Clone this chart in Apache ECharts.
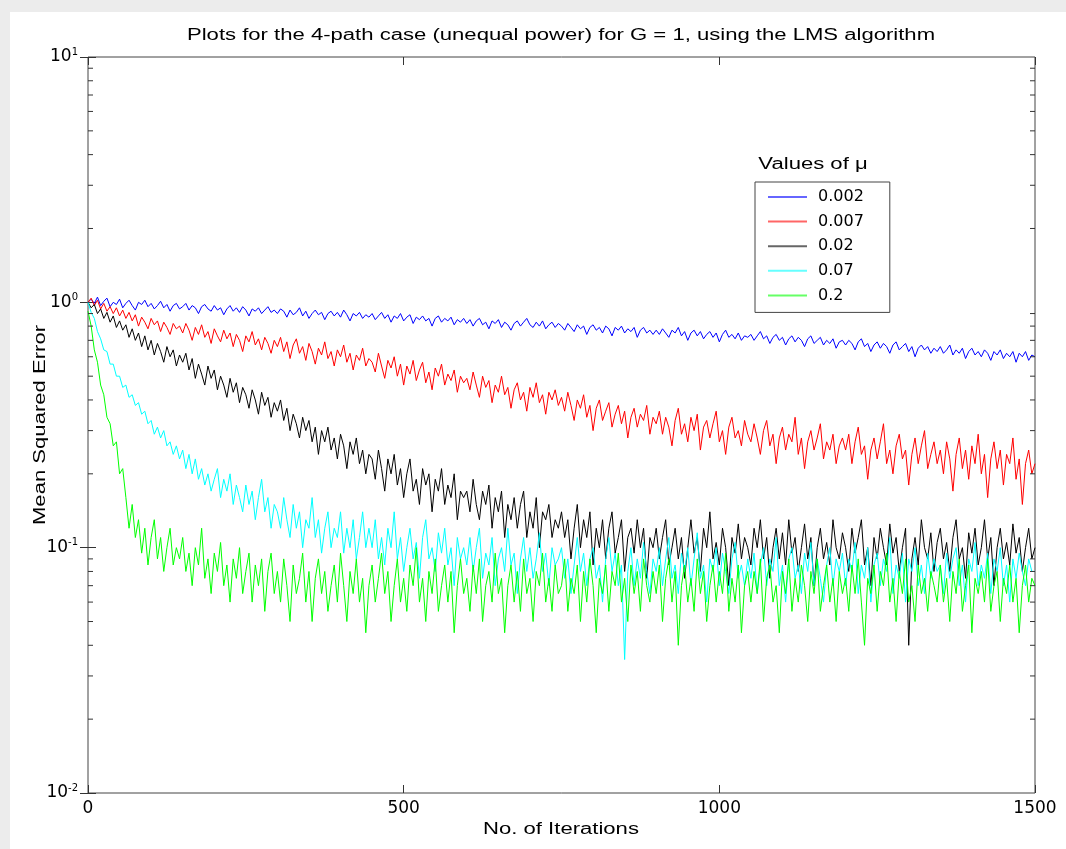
<!DOCTYPE html>
<html>
<head>
<meta charset="utf-8">
<title>LMS 4-path</title>
<script src="https://cdn.jsdelivr.net/npm/echarts/dist/echarts.min.js"></script>
<style>
  html, body { margin: 0; padding: 0; background: #ececec; }
  #paper { position: absolute; left: 10px; top: 12px; right: 0; bottom: 0; background: #fff; }
  #chart1 { position: absolute; left: 0; top: 0; width: 1066px; height: 849px; }
</style>
</head>
<body>
<div id="paper"></div>
<div id="chart1"></div>
<script type="text/javascript">
// MSE every 5 iterations, one array per step size mu
var iterStep = 5;
var muNames = ['0.002', '0.007', '0.02', '0.07', '0.2'];
var muColors = ['#0000ff', '#ff0000', '#000000', '#00ffff', '#00ff00'];

var mse002 = [
  1.00, 1.03, 0.99, 1.05, 0.97, 1.01, 1.04, 0.96, 1.00, 0.98,
  1.03, 0.95, 0.99, 1.02, 0.97, 0.93, 1.00, 0.98, 1.02, 0.96,
  0.99, 0.94, 0.97, 1.01, 0.95, 0.98, 0.92, 0.97, 0.99, 0.94,
  0.96, 0.99, 0.93, 0.97, 0.95, 0.90, 0.96, 0.98, 0.94, 0.92,
  0.97, 0.93, 0.95, 0.89, 0.94, 0.97, 0.92, 0.95, 0.91, 0.96,
  0.93, 0.88, 0.94, 0.92, 0.95, 0.90, 0.93, 0.96, 0.91, 0.93,
  0.90, 0.94, 0.92, 0.87, 0.93, 0.89, 0.91, 0.95, 0.88, 0.92,
  0.86, 0.90, 0.93, 0.89, 0.91, 0.85, 0.90, 0.92, 0.88, 0.91,
  0.87, 0.93, 0.89, 0.84, 0.90, 0.88, 0.91, 0.86, 0.89, 0.87,
  0.90, 0.85, 0.88, 0.91, 0.86, 0.89, 0.83, 0.88, 0.86, 0.90,
  0.84, 0.87, 0.89, 0.82, 0.87, 0.85, 0.88, 0.84, 0.86, 0.80,
  0.86, 0.88, 0.83, 0.86, 0.84, 0.87, 0.81, 0.85, 0.83, 0.86,
  0.82, 0.85, 0.80, 0.84, 0.86, 0.81, 0.83, 0.78, 0.84, 0.82,
  0.85, 0.79, 0.83, 0.81, 0.77, 0.82, 0.84, 0.80, 0.83, 0.86,
  0.81, 0.79, 0.83, 0.80, 0.84, 0.78, 0.81, 0.83, 0.79, 0.82,
  0.80, 0.77, 0.82, 0.79, 0.76, 0.81, 0.78, 0.80, 0.74, 0.79,
  0.81, 0.77, 0.79, 0.75, 0.80, 0.78, 0.73, 0.79, 0.77, 0.80,
  0.75, 0.78, 0.76, 0.79, 0.72, 0.77, 0.79, 0.75, 0.77, 0.74,
  0.77, 0.74, 0.78, 0.75, 0.72, 0.77, 0.75, 0.79, 0.73, 0.76,
  0.70, 0.75, 0.77, 0.73, 0.76, 0.71, 0.74, 0.76, 0.72, 0.75,
  0.69, 0.74, 0.77, 0.72, 0.74, 0.71, 0.75, 0.70, 0.73, 0.72,
  0.74, 0.70, 0.73, 0.76, 0.71, 0.73, 0.68, 0.72, 0.74, 0.70,
  0.72, 0.67, 0.71, 0.73, 0.69, 0.72, 0.70, 0.66, 0.71, 0.73,
  0.68, 0.70, 0.72, 0.67, 0.70, 0.68, 0.71, 0.65, 0.69, 0.70,
  0.67, 0.70, 0.68, 0.64, 0.69, 0.71, 0.66, 0.68, 0.63, 0.67,
  0.69, 0.65, 0.68, 0.66, 0.62, 0.67, 0.69, 0.64, 0.66, 0.68,
  0.63, 0.66, 0.60, 0.65, 0.67, 0.64, 0.66, 0.62, 0.65, 0.63,
  0.66, 0.62, 0.64, 0.67, 0.61, 0.64, 0.62, 0.65, 0.59, 0.63,
  0.65, 0.61, 0.63, 0.60, 0.64, 0.62, 0.58, 0.63, 0.61, 0.64,
  0.59, 0.62, 0.60, 0.63, 0.57, 0.62, 0.60, 0.63, 0.58, 0.61,
  0.60
];
var mse007 = [
  1.00, 1.04, 0.97, 1.02, 0.94, 0.99, 0.92, 0.96, 0.90, 0.95,
  0.88, 0.93, 0.86, 0.91, 0.84, 0.89, 0.80, 0.87, 0.83, 0.78,
  0.86, 0.81, 0.84, 0.76, 0.83, 0.79, 0.74, 0.82, 0.78, 0.80,
  0.75, 0.82, 0.77, 0.70, 0.79, 0.74, 0.81, 0.72, 0.76, 0.68,
  0.78, 0.73, 0.69, 0.77, 0.71, 0.75, 0.66, 0.74, 0.70, 0.63,
  0.73, 0.69, 0.76, 0.67, 0.71, 0.64, 0.72, 0.68, 0.62, 0.70,
  0.66, 0.72, 0.63, 0.69, 0.59, 0.67, 0.71, 0.62, 0.66, 0.58,
  0.68, 0.63, 0.56, 0.65, 0.61, 0.69, 0.59, 0.63, 0.55, 0.64,
  0.60, 0.67, 0.57, 0.62, 0.53, 0.61, 0.58, 0.65, 0.55, 0.59,
  0.57, 0.52, 0.62, 0.55, 0.49, 0.58, 0.54, 0.60, 0.50, 0.56,
  0.46, 0.55, 0.51, 0.58, 0.48, 0.53, 0.57, 0.47, 0.52, 0.44,
  0.54, 0.50, 0.56, 0.46, 0.51, 0.48, 0.53, 0.43, 0.50, 0.47,
  0.49, 0.44, 0.52, 0.46, 0.41, 0.50, 0.45, 0.48, 0.39, 0.46,
  0.43, 0.50, 0.42, 0.45, 0.37, 0.44, 0.47, 0.40, 0.43, 0.36,
  0.45, 0.41, 0.47, 0.39, 0.42, 0.35, 0.43, 0.40, 0.44, 0.38,
  0.41, 0.36, 0.43, 0.38, 0.33, 0.40, 0.37, 0.42, 0.34, 0.38,
  0.30, 0.37, 0.40, 0.33, 0.36, 0.39, 0.31, 0.35, 0.38, 0.32,
  0.36, 0.28, 0.34, 0.37, 0.31, 0.35, 0.33, 0.38, 0.29, 0.34,
  0.32, 0.36, 0.29, 0.34, 0.31, 0.26, 0.33, 0.37, 0.29, 0.32,
  0.27, 0.34, 0.30, 0.35, 0.25, 0.31, 0.33, 0.28, 0.32, 0.36,
  0.27, 0.30, 0.24, 0.31, 0.34, 0.28, 0.30, 0.26, 0.33, 0.29,
  0.27, 0.32, 0.28, 0.24, 0.30, 0.33, 0.26, 0.29, 0.22, 0.28,
  0.31, 0.25, 0.29, 0.27, 0.34, 0.24, 0.28, 0.21, 0.27, 0.30,
  0.25, 0.28, 0.32, 0.23, 0.27, 0.25, 0.29, 0.22, 0.26, 0.28,
  0.25, 0.29, 0.22, 0.27, 0.31, 0.24, 0.26, 0.19, 0.25, 0.28,
  0.23, 0.27, 0.32, 0.22, 0.25, 0.20, 0.26, 0.29, 0.23, 0.25,
  0.18, 0.24, 0.28, 0.22, 0.26, 0.30, 0.21, 0.24, 0.27, 0.22,
  0.25, 0.20, 0.27, 0.23, 0.17, 0.24, 0.28, 0.21, 0.25, 0.19,
  0.26, 0.22, 0.29, 0.20, 0.24, 0.16, 0.23, 0.27, 0.21, 0.25,
  0.18, 0.24, 0.22, 0.28, 0.19, 0.23, 0.15, 0.22, 0.25, 0.20,
  0.22
];
var mse02 = [
  1.00, 0.95, 0.98, 0.90, 0.94, 0.86, 0.91, 0.83, 0.88, 0.79,
  0.84, 0.77, 0.81, 0.72, 0.78, 0.70, 0.75, 0.66, 0.73, 0.64,
  0.70, 0.61, 0.68, 0.63, 0.57, 0.66, 0.60, 0.64, 0.55, 0.61,
  0.57, 0.62, 0.53, 0.59, 0.49, 0.56, 0.51, 0.46, 0.55, 0.49,
  0.53, 0.44, 0.50, 0.46, 0.41, 0.49, 0.43, 0.47, 0.39, 0.45,
  0.42, 0.37, 0.44, 0.40, 0.35, 0.43, 0.38, 0.41, 0.34, 0.39,
  0.36, 0.40, 0.33, 0.37, 0.30, 0.35, 0.32, 0.28, 0.34, 0.30,
  0.33, 0.27, 0.31, 0.24, 0.30, 0.27, 0.31, 0.25, 0.28, 0.23,
  0.29, 0.26, 0.21, 0.27, 0.24, 0.28, 0.22, 0.25, 0.20, 0.24,
  0.23, 0.19, 0.25, 0.21, 0.17, 0.23, 0.20, 0.24, 0.18, 0.21,
  0.16, 0.20, 0.23, 0.17, 0.19, 0.15, 0.21, 0.18, 0.20, 0.14,
  0.19, 0.17, 0.21, 0.15, 0.18, 0.16, 0.20, 0.13, 0.17, 0.16,
  0.17, 0.14, 0.19, 0.15, 0.13, 0.17, 0.15, 0.18, 0.12, 0.16,
  0.14, 0.17, 0.11, 0.15, 0.13, 0.16, 0.12, 0.15, 0.17, 0.11,
  0.14, 0.12, 0.16, 0.10, 0.14, 0.13, 0.15, 0.11, 0.13, 0.12,
  0.14, 0.11, 0.13, 0.09, 0.12, 0.15, 0.10, 0.13, 0.11, 0.14,
  0.085, 0.12, 0.10, 0.13, 0.09, 0.12, 0.14, 0.095, 0.11, 0.13,
  0.08, 0.11, 0.12, 0.095, 0.13, 0.10, 0.12, 0.075, 0.11, 0.10,
  0.12, 0.09, 0.11, 0.13, 0.085, 0.10, 0.12, 0.09, 0.11, 0.075,
  0.10, 0.13, 0.095, 0.11, 0.08, 0.12, 0.10, 0.14, 0.09, 0.105,
  0.085, 0.12, 0.10, 0.07, 0.11, 0.095, 0.125, 0.09, 0.11, 0.10,
  0.085, 0.12, 0.10, 0.13, 0.09, 0.11, 0.075, 0.10, 0.12, 0.09,
  0.115, 0.085, 0.13, 0.095, 0.11, 0.08, 0.10, 0.125, 0.09, 0.11,
  0.07, 0.10, 0.12, 0.09, 0.105, 0.085, 0.13, 0.10, 0.09, 0.115,
  0.10, 0.08, 0.12, 0.095, 0.11, 0.13, 0.085, 0.10, 0.07, 0.11,
  0.09, 0.12, 0.10, 0.085, 0.125, 0.095, 0.11, 0.08, 0.10, 0.12,
  0.04, 0.09, 0.11, 0.085, 0.13, 0.10, 0.09, 0.115, 0.08, 0.105,
  0.12, 0.09, 0.105, 0.08, 0.11, 0.13, 0.09, 0.10, 0.075, 0.115,
  0.095, 0.12, 0.085, 0.10, 0.13, 0.09, 0.11, 0.07, 0.10, 0.12,
  0.09, 0.105, 0.085, 0.125, 0.095, 0.11, 0.08, 0.10, 0.12, 0.09,
  0.10
];
var mse07 = [
  1.00, 0.91, 0.86, 0.76, 0.71, 0.64, 0.63, 0.56, 0.56, 0.50,
  0.50, 0.45, 0.46, 0.41, 0.42, 0.38, 0.39, 0.35, 0.36, 0.32,
  0.33, 0.29, 0.31, 0.28, 0.30, 0.26, 0.27, 0.24, 0.26, 0.23,
  0.25, 0.21, 0.24, 0.20, 0.23, 0.19, 0.21, 0.18, 0.20, 0.17,
  0.19, 0.21, 0.16, 0.19, 0.17, 0.20, 0.15, 0.18, 0.16, 0.14,
  0.18, 0.15, 0.17, 0.13, 0.16, 0.19, 0.14, 0.16, 0.12, 0.15,
  0.14, 0.12, 0.16, 0.13, 0.11, 0.15, 0.12, 0.14, 0.10, 0.13,
  0.12, 0.16, 0.11, 0.13, 0.095, 0.12, 0.14, 0.10, 0.12, 0.11,
  0.14, 0.095, 0.12, 0.10, 0.13, 0.09, 0.11, 0.14, 0.10, 0.12,
  0.10, 0.13, 0.09, 0.11, 0.085, 0.12, 0.10, 0.14, 0.09, 0.11,
  0.08, 0.10, 0.12, 0.09, 0.105, 0.075, 0.11, 0.13, 0.09, 0.10,
  0.08, 0.115, 0.095, 0.12, 0.085, 0.10, 0.07, 0.11, 0.09, 0.10,
  0.085, 0.11, 0.08, 0.10, 0.12, 0.075, 0.095, 0.085, 0.11, 0.07,
  0.09, 0.10, 0.08, 0.12, 0.085, 0.095, 0.065, 0.09, 0.11, 0.08,
  0.10, 0.075, 0.09, 0.115, 0.08, 0.095, 0.07, 0.10, 0.085, 0.09,
  0.10, 0.075, 0.09, 0.065, 0.085, 0.11, 0.08, 0.095, 0.07, 0.09,
  0.10, 0.075, 0.085, 0.06, 0.09, 0.11, 0.08, 0.095, 0.07, 0.085,
  0.035, 0.08, 0.10, 0.07, 0.09, 0.075, 0.105, 0.08, 0.065, 0.09,
  0.08, 0.10, 0.07, 0.09, 0.11, 0.075, 0.085, 0.065, 0.095, 0.08,
  0.10, 0.07, 0.09, 0.115, 0.075, 0.085, 0.06, 0.09, 0.08, 0.10,
  0.07, 0.095, 0.08, 0.065, 0.09, 0.105, 0.075, 0.085, 0.07, 0.09,
  0.075, 0.095, 0.065, 0.085, 0.10, 0.07, 0.09, 0.08, 0.11, 0.07,
  0.085, 0.06, 0.09, 0.10, 0.075, 0.085, 0.065, 0.095, 0.08, 0.105,
  0.07, 0.09, 0.075, 0.06, 0.085, 0.10, 0.07, 0.09, 0.08, 0.095,
  0.07, 0.09, 0.08, 0.105, 0.065, 0.085, 0.075, 0.10, 0.06, 0.085,
  0.095, 0.07, 0.09, 0.08, 0.11, 0.065, 0.085, 0.075, 0.095, 0.06,
  0.09, 0.08, 0.10, 0.07, 0.085, 0.065, 0.095, 0.075, 0.09, 0.08,
  0.085, 0.065, 0.095, 0.075, 0.09, 0.10, 0.07, 0.085, 0.06, 0.09,
  0.08, 0.105, 0.07, 0.085, 0.075, 0.095, 0.065, 0.09, 0.08, 0.10,
  0.07, 0.085, 0.06, 0.09, 0.075, 0.095, 0.08, 0.07, 0.09, 0.08,
  0.08
];
var mse2 = [
  0.92, 0.80, 0.64, 0.57, 0.46, 0.42, 0.34, 0.32, 0.26, 0.27,
  0.20, 0.21, 0.16, 0.12, 0.15, 0.11, 0.13, 0.095, 0.12, 0.085,
  0.11, 0.13, 0.09, 0.11, 0.08, 0.10, 0.12, 0.085, 0.10, 0.09,
  0.11, 0.08, 0.095, 0.07, 0.10, 0.085, 0.12, 0.075, 0.09, 0.065,
  0.095, 0.08, 0.105, 0.07, 0.085, 0.06, 0.09, 0.075, 0.10, 0.065,
  0.08, 0.095, 0.06, 0.085, 0.07, 0.09, 0.055, 0.08, 0.095, 0.065,
  0.08, 0.06, 0.09, 0.07, 0.05, 0.085, 0.065, 0.075, 0.095, 0.06,
  0.08, 0.05, 0.075, 0.09, 0.065, 0.08, 0.055, 0.07, 0.085, 0.06,
  0.095, 0.07, 0.05, 0.08, 0.065, 0.09, 0.06, 0.075, 0.045, 0.07,
  0.085, 0.06, 0.075, 0.095, 0.065, 0.08, 0.05, 0.07, 0.09, 0.06,
  0.075, 0.055, 0.085, 0.07, 0.10, 0.06, 0.075, 0.05, 0.08, 0.065,
  0.09, 0.055, 0.07, 0.085, 0.06, 0.08, 0.045, 0.07, 0.09, 0.065,
  0.075, 0.055, 0.085, 0.065, 0.09, 0.05, 0.07, 0.08, 0.06, 0.095,
  0.065, 0.075, 0.045, 0.07, 0.085, 0.06, 0.08, 0.055, 0.09, 0.065,
  0.075, 0.05, 0.08, 0.07, 0.095, 0.06, 0.075, 0.055, 0.085, 0.065,
  0.07, 0.09, 0.055, 0.075, 0.065, 0.085, 0.05, 0.08, 0.06, 0.09,
  0.07, 0.045, 0.075, 0.065, 0.085, 0.055, 0.08, 0.07, 0.095, 0.06,
  0.075, 0.05, 0.085, 0.065, 0.08, 0.055, 0.09, 0.07, 0.06, 0.08,
  0.065, 0.085, 0.05, 0.075, 0.09, 0.06, 0.08, 0.04, 0.07, 0.085,
  0.06, 0.075, 0.055, 0.09, 0.065, 0.08, 0.05, 0.07, 0.085, 0.06,
  0.08, 0.065, 0.095, 0.055, 0.075, 0.06, 0.085, 0.045, 0.07, 0.08,
  0.06, 0.08, 0.065, 0.09, 0.05, 0.075, 0.085, 0.06, 0.07, 0.045,
  0.08, 0.065, 0.09, 0.055, 0.075, 0.06, 0.085, 0.07, 0.05, 0.08,
  0.065, 0.09, 0.055, 0.07, 0.085, 0.06, 0.075, 0.05, 0.08, 0.065,
  0.075, 0.055, 0.085, 0.065, 0.09, 0.06, 0.04, 0.075, 0.065, 0.085,
  0.055, 0.08, 0.07, 0.095, 0.06, 0.075, 0.05, 0.08, 0.065, 0.09,
  0.06, 0.07, 0.05, 0.085, 0.065, 0.075, 0.055, 0.08, 0.07, 0.06,
  0.085, 0.06, 0.075, 0.05, 0.08, 0.065, 0.09, 0.055, 0.07, 0.085,
  0.045, 0.075, 0.065, 0.08, 0.06, 0.09, 0.055, 0.07, 0.08, 0.05,
  0.075, 0.065, 0.085, 0.06, 0.075, 0.045, 0.07, 0.085, 0.06, 0.075,
  0.07
];

var xTicks = [0, 500, 1000, 1500];
var yTicks = [0.01, 0.1, 1, 10];
var yTickExps = ['-2', '-1', '0', '1'];
var minorTicks = [0.02, 0.03, 0.04, 0.05, 0.06, 0.07, 0.08, 0.09,
                  0.2, 0.3, 0.4, 0.5, 0.6, 0.7, 0.8, 0.9,
                  2, 3, 4, 5, 6, 7, 8, 9];

var titleText = 'Plots for the 4-path case (unequal power) for G = 1, using the LMS algorithm';
var xName = 'No. of Iterations';
var yName = 'Mean Squared Error';
var legendTitle = 'Values of \u03bc';

var allMse = [mse002, mse007, mse02, mse07, mse2];

function toPairs(arr) {
  return arr.map(function (v, i) { return [i * iterStep, v]; });
}

// the source figure's text is wide, stretch it a bit
function stretchedText(txt, x, y, rot) {
  return {
    type: 'text', x: x, y: y, rotation: rot || 0, scaleX: 1.38, silent: true,
    style: {
      text: txt, fill: '#000', font: '16px "Liberation Sans", Arial, sans-serif',
      align: 'center', verticalAlign: 'middle', textAlign: 'center', textVerticalAlign: 'middle'
    }
  };
}

var myChart = echarts.init(document.getElementById('chart1'));

var lineSeries = allMse.map(function (arr, k) {
  return {
    name: muNames[k],
    type: 'line',
    data: toPairs(arr),
    showSymbol: false,
    symbol: 'none',
    lineStyle: { color: muColors[k], width: 1 },
    itemStyle: { color: muColors[k] },
    z: 2 + k
  };
});

var minorSeries = {
  type: 'custom',
  silent: true,
  data: minorTicks.map(function (v) { return [0, v]; }),
  renderItem: function (params, api) {
    var left = api.coord([0, api.value(1)]);
    var right = api.coord([1500, api.value(1)]);
    var st = { stroke: '#333', lineWidth: 1 };
    return {
      type: 'group',
      children: [
        { type: 'line', shape: { x1: left[0], y1: left[1], x2: left[0] + 5, y2: left[1] }, style: st },
        { type: 'line', shape: { x1: right[0] - 5, y1: right[1], x2: right[0], y2: right[1] }, style: st }
      ]
    };
  },
  z: 10
};

var tickFont = { fontFamily: 'DejaVu Sans', fontSize: 17, color: '#000' };

var option = {
  animation: false,
  grid: {
    left: 88, top: 57, right: 31, bottom: 56,
    show: true, borderColor: '#444', borderWidth: 1, backgroundColor: '#fff'
  },
  legend: {
    data: muNames.map(function (n, k) {
      return { name: n, icon: 'rect', itemStyle: { color: muColors[k], borderWidth: 0, opacity: 0.6 } };
    }),
    orient: 'vertical',
    left: 755, top: 182,
    padding: [5, 26, 7, 13],
    itemWidth: 39, itemHeight: 2, itemGap: 4.6,
    borderColor: '#444', borderWidth: 1, backgroundColor: '#fff',
    textStyle: { fontFamily: 'DejaVu Sans', fontSize: 16, color: '#000', lineHeight: 20, padding: [0, 0, 0, 6] }
  },
  xAxis: [{
    type: 'value', min: 0, max: 1500, interval: 500,
    axisLine: { show: false },
    axisTick: { show: true, inside: true, length: 8, lineStyle: { color: '#333' } },
    axisLabel: Object.assign({ margin: 7, formatter: function (v) { return xTicks.indexOf(v) >= 0 ? String(v) : ''; } }, tickFont),
    splitLine: { show: false }
  }, {
    type: 'value', position: 'top', min: 0, max: 1500, interval: 500,
    axisLine: { show: false },
    axisTick: { show: true, inside: true, length: 8, lineStyle: { color: '#333' } },
    axisLabel: { show: false },
    splitLine: { show: false }
  }],
  yAxis: [{
    type: 'log', logBase: 10, min: 0.01, max: 10,
    axisLine: { show: false },
    axisTick: { show: true, inside: true, length: 8, lineStyle: { color: '#333' } },
    axisLabel: {
      margin: 10,
      formatter: function (v) {
        var i = yTicks.findIndex(function (t) { return Math.abs(t - v) / t < 1e-6; });
        return i < 0 ? '' : '{b|10}{s|' + yTickExps[i] + '}';
      },
      rich: {
        b: { fontFamily: 'DejaVu Sans', fontSize: 17, color: '#000', lineHeight: 20 },
        s: { fontFamily: 'DejaVu Sans', fontSize: 10, color: '#000', verticalAlign: 'top', lineHeight: 20 }
      }
    },
    splitLine: { show: false }
  }, {
    type: 'log', logBase: 10, min: 0.01, max: 10, position: 'right',
    axisLine: { show: false },
    axisTick: { show: true, inside: true, length: 8, lineStyle: { color: '#333' } },
    axisLabel: { show: false },
    splitLine: { show: false }
  }],
  graphic: [
    stretchedText(titleText, 561, 36),
    stretchedText(xName, 561, 830),
    stretchedText(yName, 41, 425, Math.PI / 2),
    stretchedText(legendTitle, 813, 165)
  ],
  series: lineSeries.concat([minorSeries])
};

myChart.setOption(option);
</script>
</body>
</html>
